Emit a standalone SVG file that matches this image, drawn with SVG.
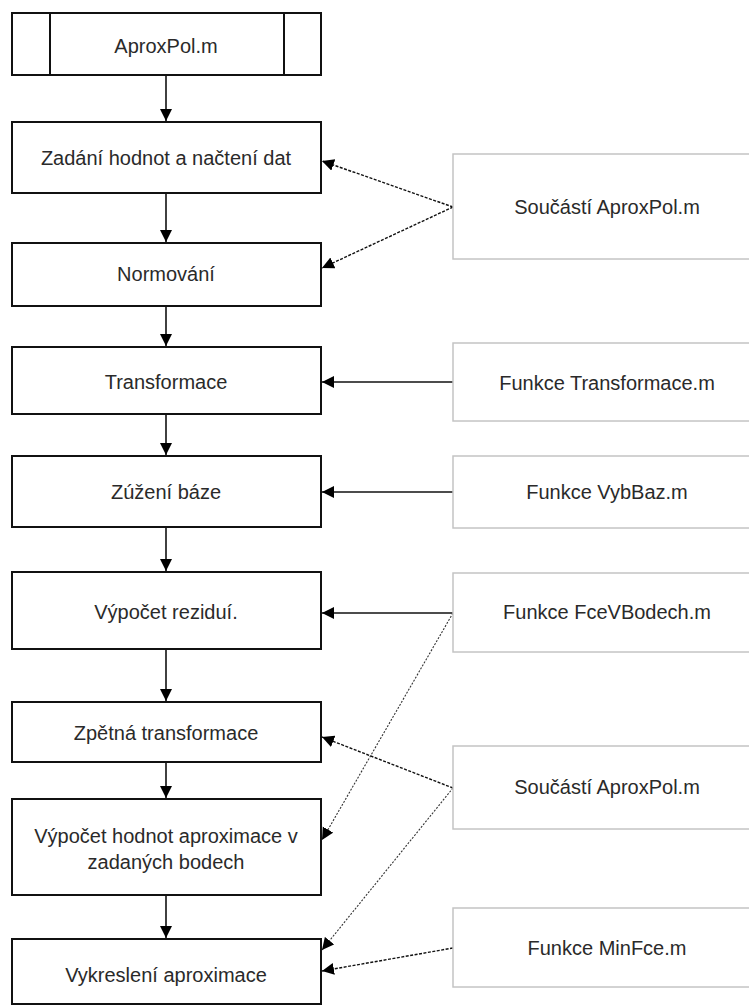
<svg xmlns="http://www.w3.org/2000/svg" width="749" height="1006" viewBox="0 0 749 1006">
<style>
.main{fill:#fff;stroke:#111;stroke-width:2}
.side{fill:#fff;stroke:#c4c4c4;stroke-width:1.5}
text{font-family:"Liberation Sans",Arial,sans-serif;font-size:20px;fill:#2a2a2a;text-anchor:middle;dominant-baseline:central}
.solid{stroke:#111;stroke-width:1.6;fill:none}
.dash{stroke:#111;stroke-width:1.4;stroke-dasharray:3,1.5;fill:none}
.dot{stroke:#333;stroke-width:1.1;stroke-dasharray:2,1.5;fill:none}
</style>
<defs>
<marker id="ah" markerUnits="userSpaceOnUse" markerWidth="13" markerHeight="13" refX="12" refY="6" orient="auto">
<path d="M0,0 L12,6 L0,12 z" fill="#000"/>
</marker>
</defs>
<rect width="749" height="1006" fill="#fff"/>
<g id="connectors">
<line class="solid" x1="166" y1="75" x2="166" y2="121" marker-end="url(#ah)"/>
<line class="solid" x1="166" y1="193" x2="166" y2="242" marker-end="url(#ah)"/>
<line class="solid" x1="166" y1="306" x2="166" y2="346" marker-end="url(#ah)"/>
<line class="solid" x1="166" y1="414" x2="166" y2="455" marker-end="url(#ah)"/>
<line class="solid" x1="166" y1="527" x2="166" y2="571" marker-end="url(#ah)"/>
<line class="solid" x1="166" y1="649" x2="166" y2="701" marker-end="url(#ah)"/>
<line class="solid" x1="166" y1="762" x2="166" y2="798" marker-end="url(#ah)"/>
<line class="solid" x1="166" y1="895" x2="166" y2="938" marker-end="url(#ah)"/>
<line class="dash" x1="453" y1="207" x2="322" y2="161" marker-end="url(#ah)"/>
<line class="dash" x1="453" y1="207" x2="322" y2="268" marker-end="url(#ah)"/>
<line class="solid" x1="453" y1="382" x2="322" y2="382" marker-end="url(#ah)"/>
<line class="solid" x1="453" y1="492" x2="322" y2="492" marker-end="url(#ah)"/>
<line class="solid" x1="453" y1="613" x2="322" y2="613" marker-end="url(#ah)"/>
<line class="dot" x1="453" y1="613" x2="322" y2="840" marker-end="url(#ah)"/>
<line class="dash" x1="453" y1="788" x2="322" y2="737" marker-end="url(#ah)"/>
<line class="dot" x1="453" y1="788" x2="322" y2="950" marker-end="url(#ah)"/>
<line class="dash" x1="453" y1="948" x2="322" y2="971" marker-end="url(#ah)"/>
</g>
<g id="n-aproxpol">
<rect class="main" x="12" y="13" width="309" height="62"/>
<line x1="50" y1="13" x2="50" y2="75" stroke="#111" stroke-width="2"/>
<line x1="284" y1="13" x2="284" y2="75" stroke="#111" stroke-width="2"/>
<text x="166" y="46">AproxPol.m</text>
</g>
<g id="n-zadani">
<rect class="main" x="12" y="122" width="309" height="71"/>
<text x="166" y="158">Zadání hodnot a načtení dat</text>
</g>
<g id="n-normovani">
<rect class="main" x="12" y="243" width="309" height="63"/>
<text x="166" y="274">Normování</text>
</g>
<g id="n-transformace">
<rect class="main" x="12" y="347" width="309" height="67"/>
<text x="166" y="382">Transformace</text>
</g>
<g id="n-zuzeni">
<rect class="main" x="12" y="456" width="309" height="71"/>
<text x="166" y="492">Zúžení báze</text>
</g>
<g id="n-rezidui">
<rect class="main" x="12" y="572" width="309" height="77"/>
<text x="166" y="612">Výpočet reziduí.</text>
</g>
<g id="n-zpetna">
<rect class="main" x="12" y="702" width="309" height="60"/>
<text x="166" y="733">Zpětná transformace</text>
</g>
<g id="n-vypocet-hodnot">
<rect class="main" x="12" y="799" width="309" height="96"/>
<text x="166" y="836">Výpočet hodnot aproximace v</text>
<text x="166" y="862">zadaných bodech</text>
</g>
<g id="n-vykresleni">
<rect class="main" x="12" y="939" width="309" height="65"/>
<text x="166" y="975">Vykreslení aproximace</text>
</g>
<g id="n-soucasti1">
<rect class="side" x="453" y="154" width="320" height="105"/>
<text x="607" y="207">Součástí AproxPol.m</text>
</g>
<g id="n-f-transformace">
<rect class="side" x="453" y="343" width="320" height="78"/>
<text x="607" y="383">Funkce Transformace.m</text>
</g>
<g id="n-f-vybbaz">
<rect class="side" x="453" y="456" width="320" height="72"/>
<text x="607" y="492">Funkce VybBaz.m</text>
</g>
<g id="n-f-fcevbodech">
<rect class="side" x="453" y="573" width="320" height="79"/>
<text x="607" y="612">Funkce FceVBodech.m</text>
</g>
<g id="n-soucasti2">
<rect class="side" x="453" y="746" width="320" height="83"/>
<text x="607" y="787">Součástí AproxPol.m</text>
</g>
<g id="n-f-minfce">
<rect class="side" x="453" y="908" width="320" height="79"/>
<text x="607" y="948">Funkce MinFce.m</text>
</g>
</svg>
